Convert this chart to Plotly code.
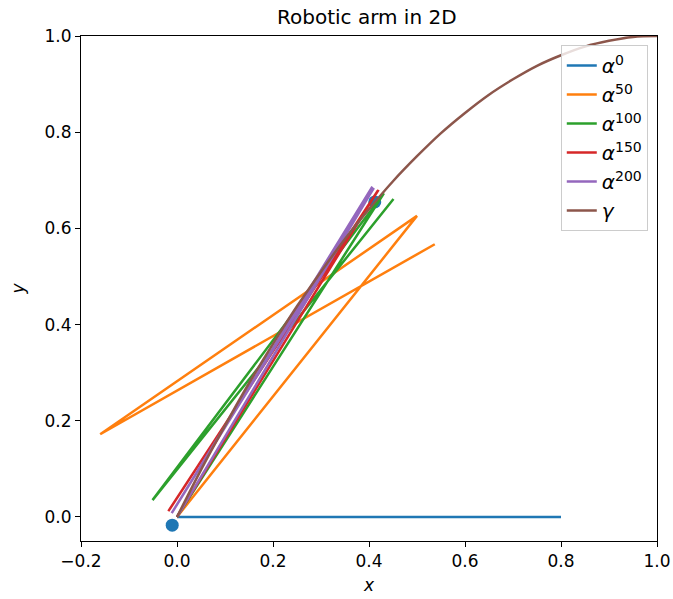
import plotly.graph_objects as go

# Arm configurations (joint positions)
a0_x = [0.0, 0.8, 0.0, 0.8]
a0_y = [0.0, 0.0, 0.0, 0.0]
a50_x = [0.0, 0.500, -0.160, 0.537]
a50_y = [0.0, 0.626, 0.172, 0.567]
a100_x = [0.0, 0.431, -0.051, 0.451]
a100_y = [0.0, 0.673, 0.035, 0.661]
a150_x = [0.0, 0.418, -0.018, 0.420]
a150_y = [0.0, 0.678, 0.012, 0.680]
a200_x = [0.0, 0.410, -0.011, 0.407]
a200_y = [0.0, 0.684, 0.008, 0.687]

# Target curve gamma
g_x = [0.0, 0.05, 0.1, 0.15, 0.2, 0.25, 0.3, 0.35, 0.4, 0.45, 0.5, 0.55,
       0.6, 0.65, 0.7, 0.75, 0.8, 0.85, 0.9, 0.95, 1.0]
g_y = [0.0, 0.098, 0.19, 0.278, 0.36, 0.438, 0.51, 0.578, 0.64, 0.698, 0.75,
       0.798, 0.84, 0.878, 0.91, 0.938, 0.96, 0.978, 0.99, 0.998, 1.0]

# Points (blue dots)
pt_x = [-0.010, 0.412]
pt_y = [-0.017, 0.655]

names = ["<i>α</i><sup>0</sup>", "<i>α</i><sup>50</sup>", "<i>α</i><sup>100</sup>",
         "<i>α</i><sup>150</sup>", "<i>α</i><sup>200</sup>", "<i>γ</i>"]
colors = ["#1f77b4", "#ff7f0e", "#2ca02c", "#d62728", "#9467bd", "#8c564b"]

fig = go.Figure()
fig.add_trace(go.Scatter(x=pt_x, y=pt_y, mode="markers",
                         marker=dict(color="#1f77b4", size=13),
                         showlegend=False, hoverinfo="skip"))

series = [(a0_x, a0_y), (a50_x, a50_y), (a100_x, a100_y),
          (a150_x, a150_y), (a200_x, a200_y), (g_x, g_y)]
for i, ((xs, ys), n, c) in enumerate(zip(series, names, colors)):
    shape = "spline" if i == 5 else "linear"
    fig.add_trace(go.Scatter(x=xs, y=ys, mode="lines", name=n,
                             legendgroup=f"g{i}",
                             line=dict(color=c, width=2.5, shape=shape)))

axis_common = dict(showline=True, linecolor="black", linewidth=1, mirror=True,
                   ticks="outside", ticklen=5, tickwidth=1, tickcolor="black",
                   showgrid=False, zeroline=False, automargin=False,
                   tickfont=dict(size=17, color="black"), tickformat=".1f")

fig.update_layout(
    width=673, height=599,
    margin=dict(l=81, r=16, t=36, b=58),
    paper_bgcolor="white", plot_bgcolor="white",
    font=dict(family="DejaVu Sans", color="black"),
    title=dict(text="Robotic arm in 2D", x=0.545, xanchor="center",
               y=0.971, yanchor="middle", font=dict(size=20)),
    xaxis=dict(range=[-0.2, 1.0], tickvals=[-0.2, 0, 0.2, 0.4, 0.6, 0.8, 1.0],
               title=dict(text="<i>x</i>", font=dict(size=17), standoff=8),
               **axis_common),
    yaxis=dict(range=[-0.05, 1.0], tickvals=[0, 0.2, 0.4, 0.6, 0.8, 1.0],
               title=dict(text="<i>y</i>", font=dict(size=17), standoff=15),
               **axis_common),
    legend=dict(x=0.984, xanchor="right", y=0.982, yanchor="top",
                bgcolor="rgba(255,255,255,0.8)", bordercolor="#cccccc",
                borderwidth=1, font=dict(size=20), tracegroupgap=0),
    showlegend=True,
)

fig.write_html("out.html")
